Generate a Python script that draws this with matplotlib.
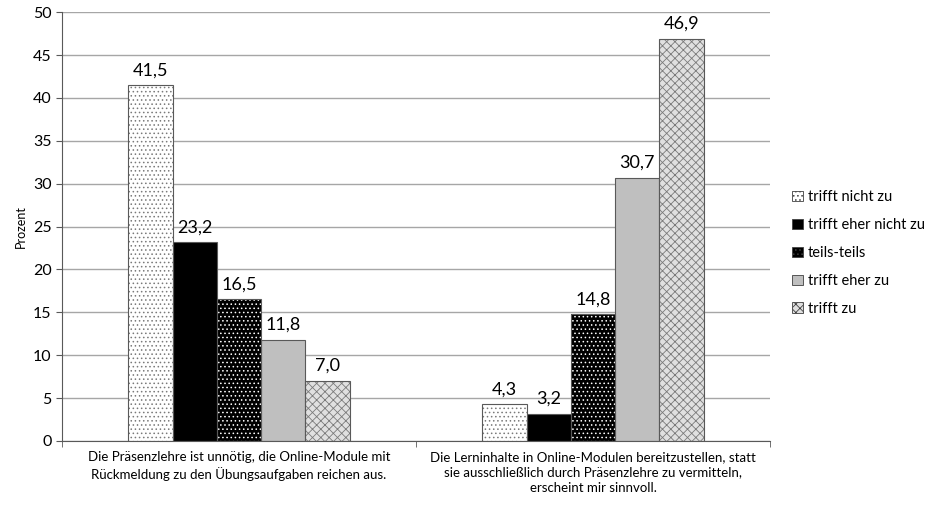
import numpy as np
import matplotlib
matplotlib.use("Agg")
import matplotlib.pyplot as plt
from matplotlib.patches import Patch

plt.rcParams['font.family'] = ['Lato', 'DejaVu Sans']
plt.rcParams['hatch.linewidth'] = 0.6

categories = [
    "Die Präsenzlehre ist unnötig, die Online-Module mit\nRückmeldung zu den Übungsaufgaben reichen aus.",
    "Die Lerninhalte in Online-Modulen bereitzustellen, statt\nsie ausschließlich durch Präsenzlehre zu vermitteln,\nerscheint mir sinnvoll.",
]
series = ["trifft nicht zu", "trifft eher nicht zu", "teils-teils", "trifft eher zu", "trifft zu"]
values = [
    [41.5, 4.3],
    [23.2, 3.2],
    [16.5, 14.8],
    [11.8, 30.7],
    [7.0, 46.9],
]

# face colour, hatch, hatch colour
styles = [
    ("white", "....", "#7a7a7a"),
    ("black", None, "black"),
    ("black", "....", "white"),
    ("#bfbfbf", None, "#bfbfbf"),
    ("#e0e0e0", "xxxx", "#7a7a7a"),
]

fig = plt.figure(figsize=(9.3, 5.09), dpi=100)
ax = fig.add_axes([0.0667, 0.1336, 0.7613, 0.8424])

x = np.arange(len(categories))
w = 0.125
offsets = (np.arange(len(series)) - 2) * w
handles = []
for i, name in enumerate(series):
    fc, hatch, hc = styles[i]
    ax.bar(x + offsets[i], values[i], w, color=fc, hatch=hatch, edgecolor=hc,
           linewidth=0, zorder=2)
    ax.bar(x + offsets[i], values[i], w, facecolor="none", edgecolor="#595959",
           linewidth=0.8, zorder=3)
    for xi, v in zip(x, values[i]):
        ax.text(xi + offsets[i], v + 0.8, f"{v:.1f}".replace(".", ","),
                ha="center", va="bottom", fontsize=13, zorder=4)
    handles.append(Patch(facecolor=fc, hatch=hatch, edgecolor="#404040", linewidth=0.6))

ax.set_xlim(-0.5, 1.5)
ax.set_ylim(0, 50)
ax.set_yticks(range(0, 51, 5))
ax.set_xticks(x)
ax.set_xticklabels(categories, fontsize=9.5, linespacing=1.35)
ax.set_xticks([-0.5, 0.5, 1.5], minor=True)
ax.tick_params(axis="x", which="major", length=0, pad=7)
ax.tick_params(axis="x", which="minor", length=4, color="#595959")
ax.tick_params(axis="y", labelsize=11.5, length=4, direction="out", color="#595959")
ax.yaxis.grid(True, color="#a6a6a6", linewidth=1, zorder=0)
ax.set_axisbelow(True)
for s in ["top", "right"]:
    ax.spines[s].set_visible(False)
ax.spines["left"].set_color("#595959")
ax.spines["bottom"].set_color("#595959")
ax.set_ylabel("Prozent", fontsize=9, labelpad=4)

leg = fig.legend(handles, series, loc="center left", bbox_to_anchor=(0.838, 0.503),
                 frameon=False, fontsize=10.5, handlelength=0.7, handleheight=0.7,
                 handletextpad=0.35, labelspacing=0.95)

fig.savefig("out.png", dpi=100)
